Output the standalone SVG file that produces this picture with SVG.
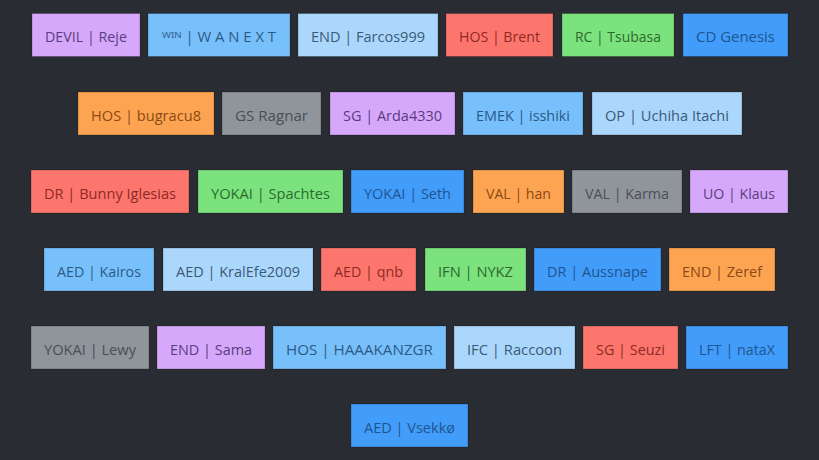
<svg xmlns="http://www.w3.org/2000/svg" width="819" height="460" viewBox="0 0 819 460">
<style>
rect{stroke:rgba(0,0,0,0.22);stroke-width:1}
text{font-family:"Open Sans","Noto Sans","Liberation Sans",sans-serif;font-size:15px;text-anchor:middle}
.pu rect{fill:#d5a8fb}.pu text{fill:#5b3d80}
.wb rect{fill:#78c0fc}.wb text{fill:#2c5a85}
.lb rect{fill:#acd7fc}.lb text{fill:#3a5a78}
.sa rect{fill:#fd766d}.sa text{fill:#8e2a26}
.gr rect{fill:#7be27d}.gr text{fill:#2d6a2f}
.bl rect{fill:#419cfa}.bl text{fill:#1f5590}
.or rect{fill:#fda452}.or text{fill:#8a4a12}
.gy rect{fill:#8f959b}.gy text{fill:#4a4f55}
</style>
<rect x="0" y="0" width="819" height="460" fill="#2a2c33" style="stroke:none"/>
<g id="n1" class="pu"><rect x="32" y="13.5" width="108" height="43"/><text x="86" y="42" textLength="82" lengthAdjust="spacingAndGlyphs">DEVIL | Reje</text></g>
<g id="n2" class="wb"><rect x="148" y="13.5" width="142" height="43"/><text x="219" y="42" textLength="114" lengthAdjust="spacingAndGlyphs">ᵂᴵᴺ | W A N E X T</text></g>
<g id="n3" class="lb"><rect x="298" y="13.5" width="140" height="43"/><text x="368" y="42" textLength="114" lengthAdjust="spacingAndGlyphs">END | Farcos999</text></g>
<g id="n4" class="sa"><rect x="446" y="13.5" width="107" height="43"/><text x="499.5" y="42" textLength="81" lengthAdjust="spacingAndGlyphs">HOS | Brent</text></g>
<g id="n5" class="gr"><rect x="562" y="13.5" width="112" height="43"/><text x="618" y="42" textLength="86" lengthAdjust="spacingAndGlyphs">RC | Tsubasa</text></g>
<g id="n6" class="bl"><rect x="683" y="13.5" width="105" height="43"/><text x="735.5" y="42" textLength="79" lengthAdjust="spacingAndGlyphs">CD Genesis</text></g>

<g id="n7" class="or"><rect x="78" y="92" width="136" height="43"/><text x="146" y="120.5" textLength="110" lengthAdjust="spacingAndGlyphs">HOS | bugracu8</text></g>
<g id="n8" class="gy"><rect x="222" y="92" width="99" height="43"/><text x="271.5" y="120.5" textLength="73" lengthAdjust="spacingAndGlyphs">GS Ragnar</text></g>
<g id="n9" class="pu"><rect x="330" y="92" width="125" height="43"/><text x="392.5" y="120.5" textLength="99" lengthAdjust="spacingAndGlyphs">SG | Arda4330</text></g>
<g id="n10" class="wb"><rect x="463" y="92" width="120" height="43"/><text x="523" y="120.5" textLength="94" lengthAdjust="spacingAndGlyphs">EMEK | isshiki</text></g>
<g id="n11" class="lb"><rect x="592" y="92" width="150" height="43"/><text x="667" y="120.5" textLength="124" lengthAdjust="spacingAndGlyphs">OP | Uchiha Itachi</text></g>

<g id="n12" class="sa"><rect x="31" y="170" width="158" height="43"/><text x="110" y="198.5" textLength="132" lengthAdjust="spacingAndGlyphs">DR | Bunny Iglesias</text></g>
<g id="n13" class="gr"><rect x="198" y="170" width="145" height="43"/><text x="270.5" y="198.5" textLength="119" lengthAdjust="spacingAndGlyphs">YOKAI | Spachtes</text></g>
<g id="n14" class="bl"><rect x="351" y="170" width="113" height="43"/><text x="407.5" y="198.5" textLength="87" lengthAdjust="spacingAndGlyphs">YOKAI | Seth</text></g>
<g id="n15" class="or"><rect x="473" y="170" width="91" height="43"/><text x="518.5" y="198.5" textLength="65" lengthAdjust="spacingAndGlyphs">VAL | han</text></g>
<g id="n16" class="gy"><rect x="572" y="170" width="110" height="43"/><text x="627" y="198.5" textLength="84" lengthAdjust="spacingAndGlyphs">VAL | Karma</text></g>
<g id="n17" class="pu"><rect x="690" y="170" width="98" height="43"/><text x="739" y="198.5" textLength="72" lengthAdjust="spacingAndGlyphs">UO | Klaus</text></g>

<g id="n18" class="wb"><rect x="44" y="248" width="110" height="43"/><text x="99" y="276.5" textLength="84" lengthAdjust="spacingAndGlyphs">AED | Kairos</text></g>
<g id="n19" class="lb"><rect x="163" y="248" width="150" height="43"/><text x="238" y="276.5" textLength="124" lengthAdjust="spacingAndGlyphs">AED | KralEfe2009</text></g>
<g id="n20" class="sa"><rect x="321" y="248" width="95" height="43"/><text x="368.5" y="276.5" textLength="69" lengthAdjust="spacingAndGlyphs">AED | qnb</text></g>
<g id="n21" class="gr"><rect x="425" y="248" width="101" height="43"/><text x="475.5" y="276.5" textLength="75" lengthAdjust="spacingAndGlyphs">IFN | NYKZ</text></g>
<g id="n22" class="bl"><rect x="534" y="248" width="127" height="43"/><text x="597.5" y="276.5" textLength="101" lengthAdjust="spacingAndGlyphs">DR | Aussnape</text></g>
<g id="n23" class="or"><rect x="669" y="248" width="106" height="43"/><text x="722" y="276.5" textLength="80" lengthAdjust="spacingAndGlyphs">END | Zeref</text></g>

<g id="n24" class="gy"><rect x="31" y="326" width="118" height="43"/><text x="90" y="354.5" textLength="92" lengthAdjust="spacingAndGlyphs">YOKAI | Lewy</text></g>
<g id="n25" class="pu"><rect x="157" y="326" width="108" height="43"/><text x="211" y="354.5" textLength="82" lengthAdjust="spacingAndGlyphs">END | Sama</text></g>
<g id="n26" class="wb"><rect x="273" y="326" width="173" height="43"/><text x="359.5" y="354.5" textLength="147" lengthAdjust="spacingAndGlyphs">HOS | HAAAKANZGR</text></g>
<g id="n27" class="lb"><rect x="454" y="326" width="121" height="43"/><text x="514.5" y="354.5" textLength="95" lengthAdjust="spacingAndGlyphs">IFC | Raccoon</text></g>
<g id="n28" class="sa"><rect x="583" y="326" width="95" height="43"/><text x="630.5" y="354.5" textLength="69" lengthAdjust="spacingAndGlyphs">SG | Seuzi</text></g>
<g id="n29" class="bl"><rect x="686" y="326" width="102" height="43"/><text x="737" y="354.5" textLength="76" lengthAdjust="spacingAndGlyphs">LFT | nataX</text></g>

<g id="n30" class="bl"><rect x="351" y="404" width="117" height="43"/><text x="409.5" y="432.5" textLength="91" lengthAdjust="spacingAndGlyphs">AED | Vsekkø</text></g>
</svg>
